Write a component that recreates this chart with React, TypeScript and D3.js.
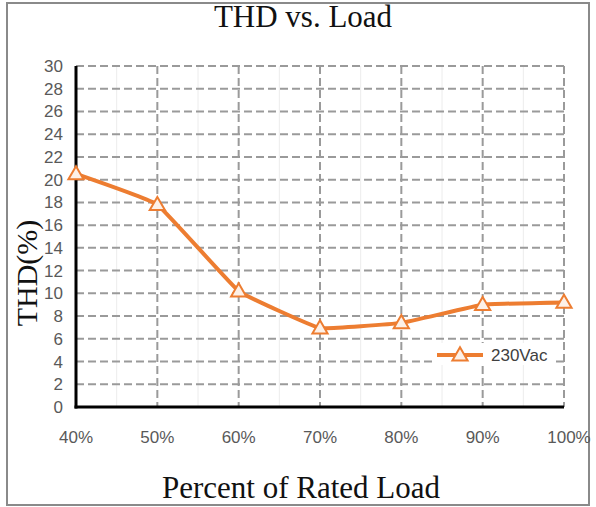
import * as d3 from 'd3'
import * as React from 'react'

// chart data
const loadLabels: string[] = ['40%', '50%', '60%', '70%', '80%', '90%', '100%']
const thd230: number[] = [20.5, 17.8, 10.2, 6.95, 7.4, 9.0, 9.2]
const yTicks: number[] = d3.range(0, 31, 2)
const seriesName = '230Vac'

const W = 596
const H = 507
const margin = { left: 76, right: 32, top: 66, bottom: 100 }
const orange = '#ED7D31'
const grid = '#9a9a9a'
const sans = '"Liberation Sans", Arial, sans-serif'
const serif = '"Liberation Serif", "Times New Roman", serif'

export default function App() {
  const ref = React.useRef<SVGSVGElement>(null)

  React.useEffect(() => {
    const svg = d3.select(ref.current)
    svg.selectAll('*').remove()

    const x = d3.scalePoint<string>()
      .domain(loadLabels)
      .range([margin.left, W - margin.right])
    const y = d3.scaleLinear()
      .domain([0, 30])
      .range([H - margin.bottom, margin.top])

    // outer frame
    svg.append('rect')
      .attr('x', 7).attr('y', 3)
      .attr('width', 582).attr('height', 502)
      .attr('fill', '#fff')
      .attr('stroke', '#8a8a8a')
      .attr('stroke-width', 2)

    const step = x.step()

    // faint minor vertical lines
    svg.append('g').selectAll('line')
      .data(loadLabels.slice(0, -1))
      .enter().append('line')
      .attr('x1', d => x(d)! + step / 2)
      .attr('x2', d => x(d)! + step / 2)
      .attr('y1', y(30)).attr('y2', y(0))
      .attr('stroke', '#ececec')
      .attr('stroke-width', 1)

    // dashed horizontal gridlines
    svg.append('g').selectAll('line')
      .data(yTicks.filter(d => d > 0))
      .enter().append('line')
      .attr('x1', x(loadLabels[0])!)
      .attr('x2', x(loadLabels[loadLabels.length - 1])!)
      .attr('y1', d => y(d)).attr('y2', d => y(d))
      .attr('stroke', grid)
      .attr('stroke-width', 2)
      .attr('stroke-dasharray', '8,4')

    // dashed vertical gridlines
    svg.append('g').selectAll('line')
      .data(loadLabels.slice(1))
      .enter().append('line')
      .attr('x1', d => x(d)!).attr('x2', d => x(d)!)
      .attr('y1', y(30)).attr('y2', y(0))
      .attr('stroke', grid)
      .attr('stroke-width', 2)
      .attr('stroke-dasharray', '8,4')

    // axes lines
    svg.append('line')
      .attr('x1', x(loadLabels[0])!).attr('x2', x(loadLabels[0])!)
      .attr('y1', y(30)).attr('y2', y(0) + 1.5)
      .attr('stroke', '#000').attr('stroke-width', 3)
    svg.append('line')
      .attr('x1', x(loadLabels[0])! - 1.5).attr('x2', x(loadLabels[loadLabels.length - 1])!)
      .attr('y1', y(0)).attr('y2', y(0))
      .attr('stroke', '#000').attr('stroke-width', 3)

    // y tick labels
    svg.append('g').selectAll('text')
      .data(yTicks)
      .enter().append('text')
      .attr('x', 63)
      .attr('y', d => y(d) + 6)
      .attr('text-anchor', 'end')
      .attr('font-family', sans)
      .attr('font-size', 17)
      .attr('fill', '#595959')
      .text(d => d)

    // x tick labels (last one nudged right, as in the source)
    svg.append('g').selectAll('text')
      .data(loadLabels)
      .enter().append('text')
      .attr('x', (d, i) => x(d)! + (i === loadLabels.length - 1 ? 5 : 0))
      .attr('y', 443)
      .attr('text-anchor', 'middle')
      .attr('font-family', sans)
      .attr('font-size', 17)
      .attr('fill', '#595959')
      .text(d => d)

    // series line
    const pts: [number, number][] = thd230.map((v, i) => [x(loadLabels[i])!, y(v)])
    const line = d3.line().curve(d3.curveCardinal.tension(0.75))
    svg.append('path')
      .attr('d', line(pts))
      .attr('fill', 'none')
      .attr('stroke', orange)
      .attr('stroke-width', 4)
      .attr('stroke-linejoin', 'round')

    const tri = d3.symbol().type(d3.symbolTriangle).size(100)
    svg.append('g').selectAll('path')
      .data(pts)
      .enter().append('path')
      .attr('d', tri)
      .attr('transform', d => `translate(${d[0]},${d[1] + 1})`)
      .attr('fill', '#fdf1e8')
      .attr('stroke', orange)
      .attr('stroke-width', 2)

    // legend
    const lg = svg.append('g').attr('transform', 'translate(437,355)')
    lg.append('rect')
      .attr('x', -2).attr('y', -12)
      .attr('width', 118).attr('height', 22)
      .attr('fill', '#fff')
    lg.append('line')
      .attr('x1', 0).attr('x2', 46)
      .attr('y1', 0).attr('y2', 0)
      .attr('stroke', orange).attr('stroke-width', 4)
    lg.append('path')
      .attr('d', tri)
      .attr('transform', 'translate(23,1)')
      .attr('fill', '#fdf1e8')
      .attr('stroke', orange)
      .attr('stroke-width', 2)
    lg.append('text')
      .attr('x', 54).attr('y', 6)
      .attr('font-family', sans)
      .attr('font-size', 17)
      .attr('fill', '#404040')
      .text(seriesName)

    // titles
    svg.append('text')
      .attr('x', 303).attr('y', 27)
      .attr('text-anchor', 'middle')
      .attr('font-family', serif)
      .attr('font-size', 31)
      .attr('fill', '#111')
      .text('THD vs. Load')

    svg.append('text')
      .attr('x', 301).attr('y', 498)
      .attr('text-anchor', 'middle')
      .attr('font-family', serif)
      .attr('font-size', 31)
      .attr('fill', '#111')
      .text('Percent of Rated Load')

    svg.append('text')
      .attr('transform', 'translate(37,273) rotate(-90)')
      .attr('text-anchor', 'middle')
      .attr('font-family', serif)
      .attr('font-size', 30)
      .attr('fill', '#111')
      .text('THD(%)')
  }, [])

  return (
    <svg
      ref={ref}
      width={W}
      height={H}
      style={{ position: 'absolute', left: 0, top: 0, background: '#fff' }}
    />
  )
}
